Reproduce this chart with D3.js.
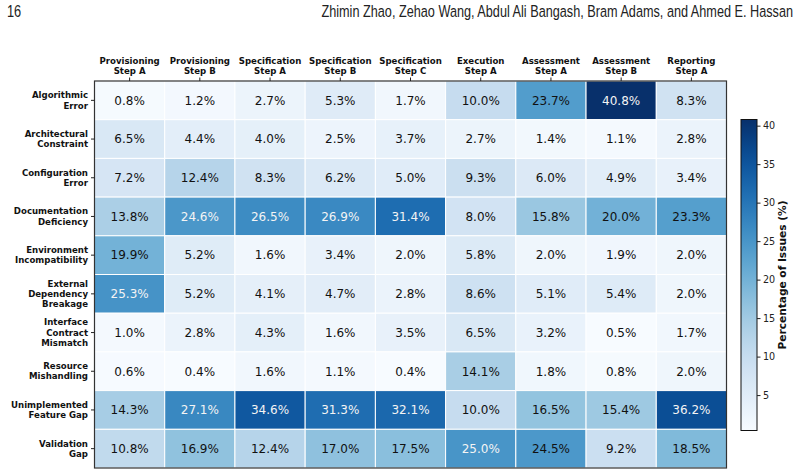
<!DOCTYPE html>
<html>
<head>
<meta charset="utf-8">
<script src="https://cdn.jsdelivr.net/npm/d3@7"></script>
<style>
  body { margin: 0; background: #fff; }
  svg { display: block; }
  text { font-family: "DejaVu Sans", sans-serif; }
</style>
</head>
<body>
<svg width="800" height="476"></svg>
<script>
const phases = [
  ['Provisioning', 'Step A'], ['Provisioning', 'Step B'],
  ['Specification', 'Step A'], ['Specification', 'Step B'], ['Specification', 'Step C'],
  ['Execution', 'Step A'], ['Assessment', 'Step A'], ['Assessment', 'Step B'],
  ['Reporting', 'Step A']
];
const issueTypes = [
  ['Algorithmic', 'Error'], ['Architectural', 'Constraint'], ['Configuration', 'Error'],
  ['Documentation', 'Deficiency'], ['Environment', 'Incompatibility'],
  ['External', 'Dependency', 'Breakage'], ['Interface', 'Contract', 'Mismatch'],
  ['Resource', 'Mishandling'], ['Unimplemented', 'Feature Gap'], ['Validation', 'Gap']
];
const percentages = [
  [0.8, 1.2, 2.7, 5.3, 1.7, 10.0, 23.7, 40.8, 8.3],
  [6.5, 4.4, 4.0, 2.5, 3.7, 2.7, 1.4, 1.1, 2.8],
  [7.2, 12.4, 8.3, 6.2, 5.0, 9.3, 6.0, 4.9, 3.4],
  [13.8, 24.6, 26.5, 26.9, 31.4, 8.0, 15.8, 20.0, 23.3],
  [19.9, 5.2, 1.6, 3.4, 2.0, 5.8, 2.0, 1.9, 2.0],
  [25.3, 5.2, 4.1, 4.7, 2.8, 8.6, 5.1, 5.4, 2.0],
  [1.0, 2.8, 4.3, 1.6, 3.5, 6.5, 3.2, 0.5, 1.7],
  [0.6, 0.4, 1.6, 1.1, 0.4, 14.1, 1.8, 0.8, 2.0],
  [14.3, 27.1, 34.6, 31.3, 32.1, 10.0, 16.5, 15.4, 36.2],
  [10.8, 16.9, 12.4, 17.0, 17.5, 25.0, 24.5, 9.2, 18.5]
];
const colorbarTicks = [5, 10, 15, 20, 25, 30, 35, 40];

const HM = { left: 94.5, top: 81, width: 632, height: 387 };
const CB = { left: 741, top: 119.5, width: 16, height: 311 };

const svg = d3.select('svg');

// page header (condensed look: wide font squeezed horizontally)
const headerFont = '"Liberation Sans", sans-serif';
svg.append('text')
  .attr('transform', 'translate(7,17) scale(0.8,1)')
  .style('font-family', headerFont)
  .style('font-size', '16px').style('fill', '#222')
  .text('16');
const authors = svg.append('text')
  .attr('text-anchor', 'end')
  .style('font-family', headerFont)
  .style('font-size', '16.5px').style('fill', '#222')
  .text('Zhimin Zhao, Zehao Wang, Abdul Ali Bangash, Bram Adams, and Ahmed E. Hassan');
const w = authors.node().getComputedTextLength();
const sx = w > 0 ? 472 / w : 1;
authors.attr('transform', `translate(793,17) scale(${sx},1)`);

const cells = [];
percentages.forEach((row, i) => row.forEach((v, j) => cells.push({ i, j, v })));

const x = d3.scaleBand().domain(d3.range(phases.length)).range([HM.left, HM.left + HM.width]);
const y = d3.scaleBand().domain(d3.range(issueTypes.length)).range([HM.top, HM.top + HM.height]);
const allVals = percentages.flat();
const color = d3.scaleSequential(d3.interpolateBlues).domain([d3.min(allVals), d3.max(allVals)]);

const g = svg.append('g');

g.selectAll('rect.cell')
  .data(cells)
  .join('rect')
  .attr('class', 'cell')
  .attr('x', d => x(d.j)).attr('y', d => y(d.i))
  .attr('width', x.bandwidth()).attr('height', y.bandwidth())
  .attr('fill', d => color(d.v))
  .attr('stroke', '#fff').attr('stroke-width', 1);

g.selectAll('text.val')
  .data(cells)
  .join('text')
  .attr('class', 'val')
  .attr('x', d => x(d.j) + x.bandwidth() / 2)
  .attr('y', d => y(d.i) + y.bandwidth() / 2)
  .attr('text-anchor', 'middle').attr('dy', '0.36em')
  .style('font-size', '12px')
  .style('fill', d => (d.v > 24.55 ? '#f4f4f4' : '#111'))
  .text(d => d.v.toFixed(1) + '%');

g.append('rect')
  .attr('x', HM.left).attr('y', HM.top)
  .attr('width', HM.width).attr('height', HM.height)
  .attr('fill', 'none').attr('stroke', '#333').attr('stroke-width', 1.2);

// column labels + ticks
const xAxis = d3.axisTop(x).tickSize(3.5).tickFormat('');
const xg = svg.append('g').attr('transform', `translate(0,${HM.top})`).call(xAxis);
xg.select('.domain').remove();
xg.selectAll('line').attr('stroke', '#222');

svg.append('g').selectAll('text')
  .data(phases)
  .join('text')
  .attr('text-anchor', 'middle')
  .style('font-size', '8.6px').style('font-weight', 'bold').style('fill', '#111')
  .attr('transform', (d, j) => `translate(${x(j) + x.bandwidth() / 2},0)`)
  .selectAll('tspan')
  .data(d => d)
  .join('tspan')
  .attr('x', 0)
  .attr('y', (d, k) => 64 + k * 10.3)
  .text(d => d);

// row labels + ticks
const yAxis = d3.axisLeft(y).tickSize(3.5).tickFormat('');
const yg = svg.append('g').attr('transform', `translate(${HM.left},0)`).call(yAxis);
yg.select('.domain').remove();
yg.selectAll('line').attr('stroke', '#222');

svg.append('g').selectAll('text')
  .data(issueTypes)
  .join('text')
  .attr('text-anchor', 'end')
  .style('font-size', '8.6px').style('font-weight', 'bold').style('fill', '#111')
  .each(function(d, i) {
    const cy = y(i) + y.bandwidth() / 2;
    const y0 = cy - (d.length - 1) * 10.3 / 2 + 3;
    d3.select(this).selectAll('tspan')
      .data(d)
      .join('tspan')
      .attr('x', 88)
      .attr('y', (t, k) => y0 + k * 10.3)
      .text(t => t);
  });

// colorbar
const defs = svg.append('defs');
const grad = defs.append('linearGradient').attr('id', 'cbGrad')
  .attr('x1', 0).attr('y1', 1).attr('x2', 0).attr('y2', 0);
d3.range(0, 1.0001, 0.05).forEach(t => {
  grad.append('stop').attr('offset', t)
    .attr('stop-color', color(color.domain()[0] + t * (color.domain()[1] - color.domain()[0])));
});
svg.append('rect')
  .attr('x', CB.left).attr('y', CB.top)
  .attr('width', CB.width).attr('height', CB.height)
  .attr('fill', 'url(#cbGrad)').attr('stroke', '#111').attr('stroke-width', 1);

const cbScale = d3.scaleLinear().domain(color.domain()).range([CB.top + CB.height, CB.top]);
const cbAxis = d3.axisRight(cbScale).tickValues(colorbarTicks).tickSize(3.5).tickPadding(2.5);
const cbg = svg.append('g').attr('transform', `translate(${CB.left + CB.width},0)`).call(cbAxis);
cbg.select('.domain').remove();
cbg.selectAll('line').attr('stroke', '#222');
cbg.selectAll('text').style('font-family', '"DejaVu Sans", sans-serif').style('font-size', '9.6px').style('fill', '#222');

svg.append('text')
  .attr('transform', `translate(786,${CB.top + CB.height / 2}) rotate(-90)`)
  .attr('text-anchor', 'middle')
  .style('font-size', '10.6px').style('font-weight', 'bold').style('fill', '#111')
  .text('Percentage of Issues (%)');
</script>
</body>
</html>
